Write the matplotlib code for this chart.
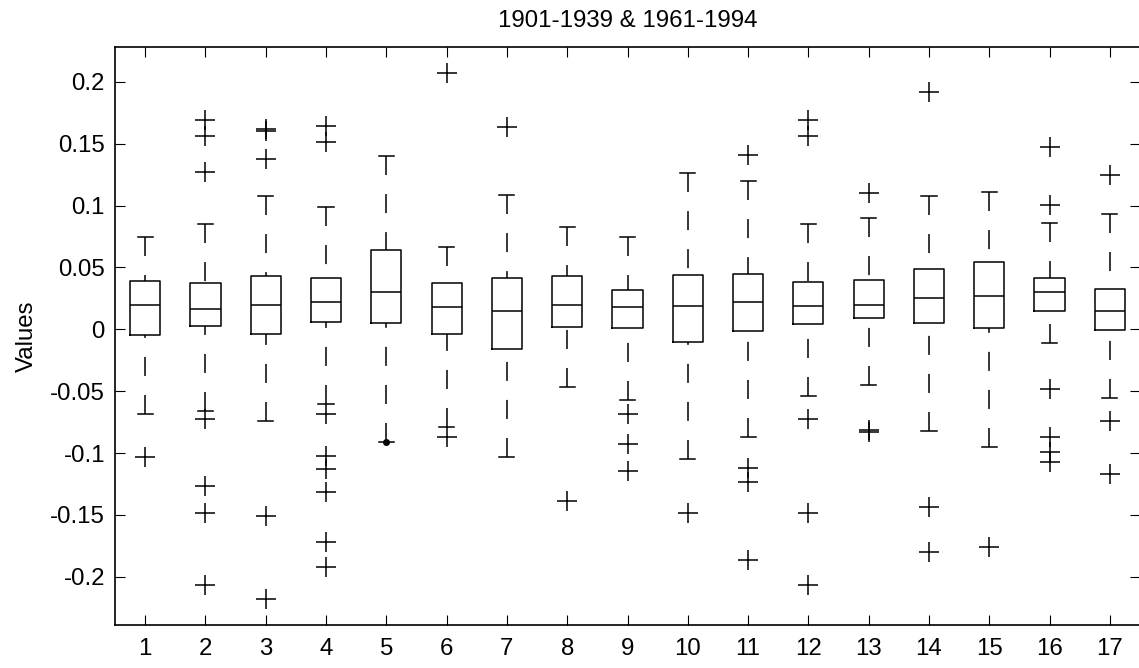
import matplotlib
matplotlib.use('Agg')
import matplotlib.pyplot as plt

plt.rcParams['font.family'] = ['Liberation Sans', 'DejaVu Sans']
plt.rcParams['lines.scale_dashes'] = False

positions = list(range(1, 18))
x_labels = [str(p) for p in positions]

q1 = [-0.0046, 0.0027, -0.0035, 0.0061, 0.0054, -0.0038, -0.0159, 0.0016, 0.0008,
      -0.0103, -0.0011, 0.0040, 0.0089, 0.0054, 0.0013, 0.0150, -0.0003]
q3 = [0.0393, 0.0372, 0.0428, 0.0414, 0.0638, 0.0372, 0.0412, 0.0433, 0.0317,
      0.0441, 0.0444, 0.0385, 0.0398, 0.0490, 0.0544, 0.0417, 0.0323]
medians = [0.0196, 0.0161, 0.0196, 0.0223, 0.0301, 0.0183, 0.0148, 0.0196, 0.0183,
           0.0191, 0.0223, 0.0191, 0.0196, 0.0250, 0.0269, 0.0299, 0.0150]
whis_hi = [0.0748, 0.0848, 0.1079, 0.0990, 0.1397, 0.0662, 0.1085, 0.0829, 0.0743,
           0.1265, 0.1200, 0.0848, 0.0902, 0.1077, 0.1112, 0.0856, 0.0934]
whis_lo = [-0.0682, -0.0658, -0.0738, -0.0603, -0.0908, -0.0787, -0.1029, -0.0469, -0.0571,
           -0.1050, -0.0870, -0.0536, -0.0450, -0.0821, -0.0948, -0.0108, -0.0552]
outliers = [
    [-0.1029],
    [0.1690, 0.1564, 0.1273, -0.0727, -0.1263, -0.1481, -0.2065],
    [0.1605, 0.1615, 0.1376, -0.1508, -0.2178],
    [0.1645, 0.1516, -0.0682, -0.1023, -0.1126, -0.1317, -0.1720, -0.1917],
    [],
    [0.2068, -0.0867],
    [0.1637],
    [-0.1387],
    [-0.0682, -0.0929, -0.1145],
    [-0.1481],
    [0.1408, -0.1120, -0.1231, -0.1864],
    [0.1690, 0.1564, -0.0725, -0.1481, -0.2065],
    [0.1098, -0.0813, -0.0827],
    [0.1914, -0.1433, -0.1802],
    [-0.1756],
    [0.1470, 0.1004, -0.0485, -0.0867, -0.0988, -0.1069],
    [0.1246, -0.0738, -0.1169],
]
dot_x = [5]
dot_y = [-0.0908]

y_ticks = [-0.2, -0.15, -0.1, -0.05, 0, 0.05, 0.1, 0.15, 0.2]
y_labels = ['-0.2', '-0.15', '-0.1', '-0.05', '0', '0.05', '0.1', '0.15', '0.2']

title = '1901-1939 & 1961-1994'
ylabel = 'Values'

W, H = 1139, 668
fig = plt.figure(figsize=(W / 100, H / 100), dpi=100)
ax = fig.add_axes([115 / W, 43 / H, 1025 / W, 578.3 / H])

stats = []
for i in range(len(positions)):
    stats.append(dict(med=medians[i], q1=q1[i], q3=q3[i],
                      whislo=whis_lo[i], whishi=whis_hi[i], fliers=outliers[i]))

lw = 1.1
bp = ax.bxp(stats, positions=positions, widths=0.5, showfliers=True,
            boxprops=dict(color='k', linewidth=lw),
            medianprops=dict(color='k', linewidth=lw),
            whiskerprops=dict(color='k', linewidth=lw, linestyle=(0, (13.7, 13.7))),
            capprops=dict(color='k', linewidth=lw),
            flierprops=dict(marker='+', markersize=13.7, markeredgecolor='k',
                            markeredgewidth=lw, linestyle='none'),
            manage_ticks=False)
# dash pattern starts at the cap end, as in the reference
for w in bp['whiskers']:
    xd, yd = w.get_data()
    w.set_data(list(xd)[::-1], list(yd)[::-1])

ax.plot(dot_x, dot_y, 'o', color='k', markersize=4, zorder=3)

ax.set_xlim(0.5, 17.5)
ax.set_ylim(-0.2389, 0.2283)
ax.set_xticks(positions)
ax.set_xticklabels(x_labels)
ax.set_yticks(y_ticks)
ax.set_yticklabels(y_labels)

ax.tick_params(axis='both', direction='in', top=True, right=True,
               length=7.2, width=0.8, labelsize=17.3)
ax.tick_params(axis='y', pad=7.2)
ax.tick_params(axis='x', pad=9.5)
for s in ax.spines.values():
    s.set_linewidth(1.2)

ax.set_title(title, fontsize=17.3, pad=14.4)
ax.set_ylabel(ylabel, fontsize=17.3, labelpad=9)

fig.savefig('out.png', dpi=100)
